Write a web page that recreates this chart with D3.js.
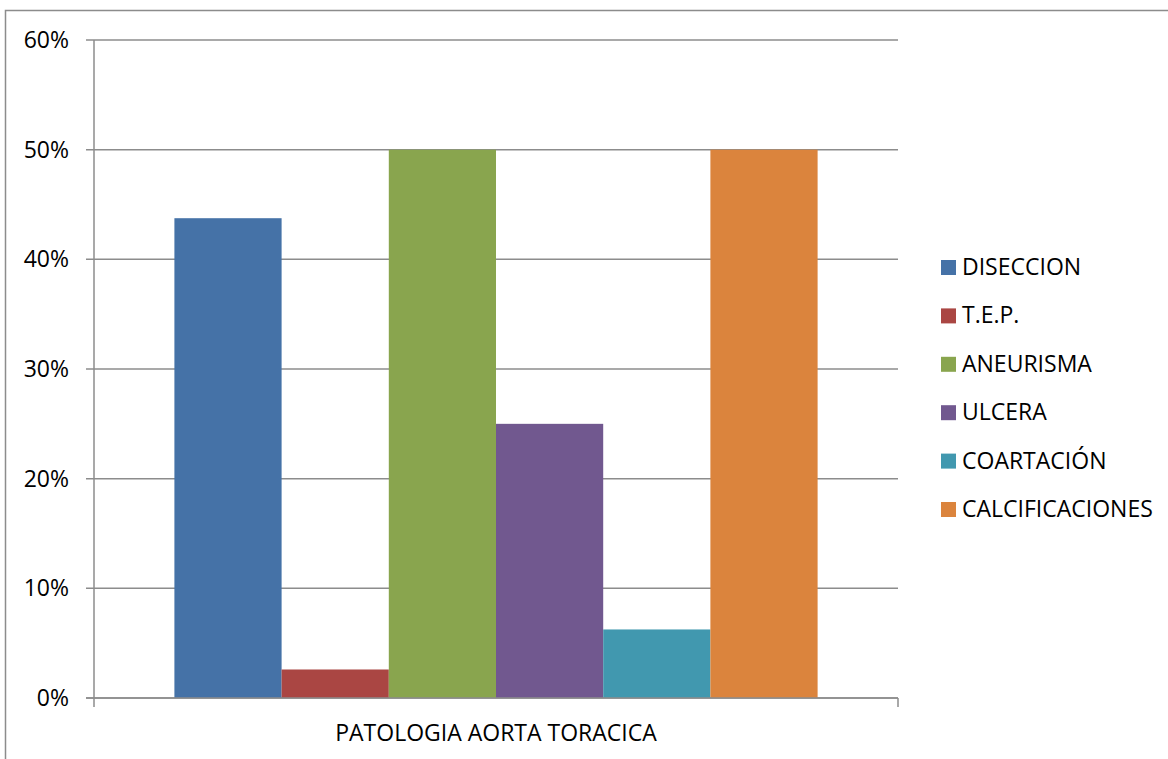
<!DOCTYPE html>
<html>
<head>
<meta charset="utf-8">
<script src="https://cdn.jsdelivr.net/npm/d3@7"></script>
<style>
  body { margin: 0; background: #fff; }
  text { font-family: "Open Sans", "Liberation Sans", sans-serif; fill: #000; }
</style>
</head>
<body>
<div class="chart"></div>
<script>
// chart data
var category = "PATOLOGIA AORTA TORACICA";
var seriesNames = ["DISECCION", "T.E.P.", "ANEURISMA", "ULCERA", "COARTACIÓN", "CALCIFICACIONES"];
var seriesValues = [0.4375, 0.026, 0.50, 0.25, 0.0625, 0.50];
var seriesColors = ["#4572A7", "#AA4643", "#89A54E", "#71588F", "#4198AF", "#DB843D"];
var yTicks = [0, 0.1, 0.2, 0.3, 0.4, 0.5, 0.6];

var svgWidth = 1168;
var svgHeight = 759;

var margin = {top: 40, right: 270, bottom: 61, left: 94};
var width = 898 - margin.left;
var height = 698 - margin.top;

var svg = d3.select(".chart")
    .append("svg")
    .attr("width", svgWidth)
    .attr("height", svgHeight);

// outer chart border
svg.append("rect")
    .attr("x", 5.5)
    .attr("y", 10.5)
    .attr("width", svgWidth)
    .attr("height", svgHeight)
    .attr("fill", "none")
    .attr("stroke", "#8c8c8c")
    .attr("stroke-width", 1.5);

var chart = svg.append("g")
    .attr("transform", "translate(" + margin.left + "," + margin.top + ")");

var yScale = d3.scaleLinear().domain([0, 0.6]).range([height, 0]);

// one category, gap of 150% of a bar on each side
var xOuter = d3.scaleBand().domain([category]).range([0, width]).paddingInner(0.2).paddingOuter(0.1);
var xInner = d3.scaleBand().domain(seriesNames).range([0, xOuter.bandwidth()]);

// gridlines
chart.selectAll(".grid")
    .data(yTicks)
    .enter()
    .append("line")
    .attr("x1", -8)
    .attr("x2", width)
    .attr("y1", function(d) { return yScale(d); })
    .attr("y2", function(d) { return yScale(d); })
    .attr("stroke", "#8c8c8c")
    .attr("stroke-width", 1.5);

// y tick labels
chart.selectAll(".ylab")
    .data(yTicks)
    .enter()
    .append("text")
    .attr("x", -25)
    .attr("y", function(d) { return yScale(d); })
    .attr("dy", "0.35em")
    .attr("text-anchor", "end")
    .style("font-size", "23px")
    .text(function(d) { return Math.round(d * 100) + "%"; });

// bars
chart.append("g")
    .attr("transform", "translate(" + xOuter(category) + ",0)")
    .selectAll("rect")
    .data(seriesNames)
    .enter()
    .append("rect")
    .attr("x", function(d) { return xInner(d); })
    .attr("width", xInner.bandwidth())
    .attr("y", function(d, i) { return yScale(seriesValues[i]); })
    .attr("height", function(d, i) { return height - yScale(seriesValues[i]); })
    .attr("fill", function(d, i) { return seriesColors[i]; });

// axes lines
chart.append("line")
    .attr("x1", 0).attr("x2", 0)
    .attr("y1", 0).attr("y2", height + 9)
    .attr("stroke", "#8c8c8c").attr("stroke-width", 1.5);
chart.append("line")
    .attr("x1", -8).attr("x2", width)
    .attr("y1", height).attr("y2", height)
    .attr("stroke", "#8c8c8c").attr("stroke-width", 1.5);
chart.append("line")
    .attr("x1", width).attr("x2", width)
    .attr("y1", height).attr("y2", height + 9)
    .attr("stroke", "#8c8c8c").attr("stroke-width", 1.5);

// x label
chart.append("text")
    .attr("x", width / 2)
    .attr("y", height + 35)
    .attr("dy", "0.35em")
    .attr("text-anchor", "middle")
    .style("font-size", "23px")
    .text(category);

// legend
var legend = svg.append("g")
    .attr("transform", "translate(941,267)");

var items = legend.selectAll("g")
    .data(seriesNames)
    .enter()
    .append("g")
    .attr("transform", function(d, i) { return "translate(0," + (i * 48.4) + ")"; });

items.append("rect")
    .attr("x", 0)
    .attr("y", -7)
    .attr("width", 15)
    .attr("height", 15)
    .attr("fill", function(d, i) { return seriesColors[i]; });

items.append("text")
    .attr("x", 21)
    .attr("y", 0)
    .attr("dy", "0.35em")
    .style("font-size", "23px")
    .text(function(d) { return d; });
</script>
</body>
</html>
